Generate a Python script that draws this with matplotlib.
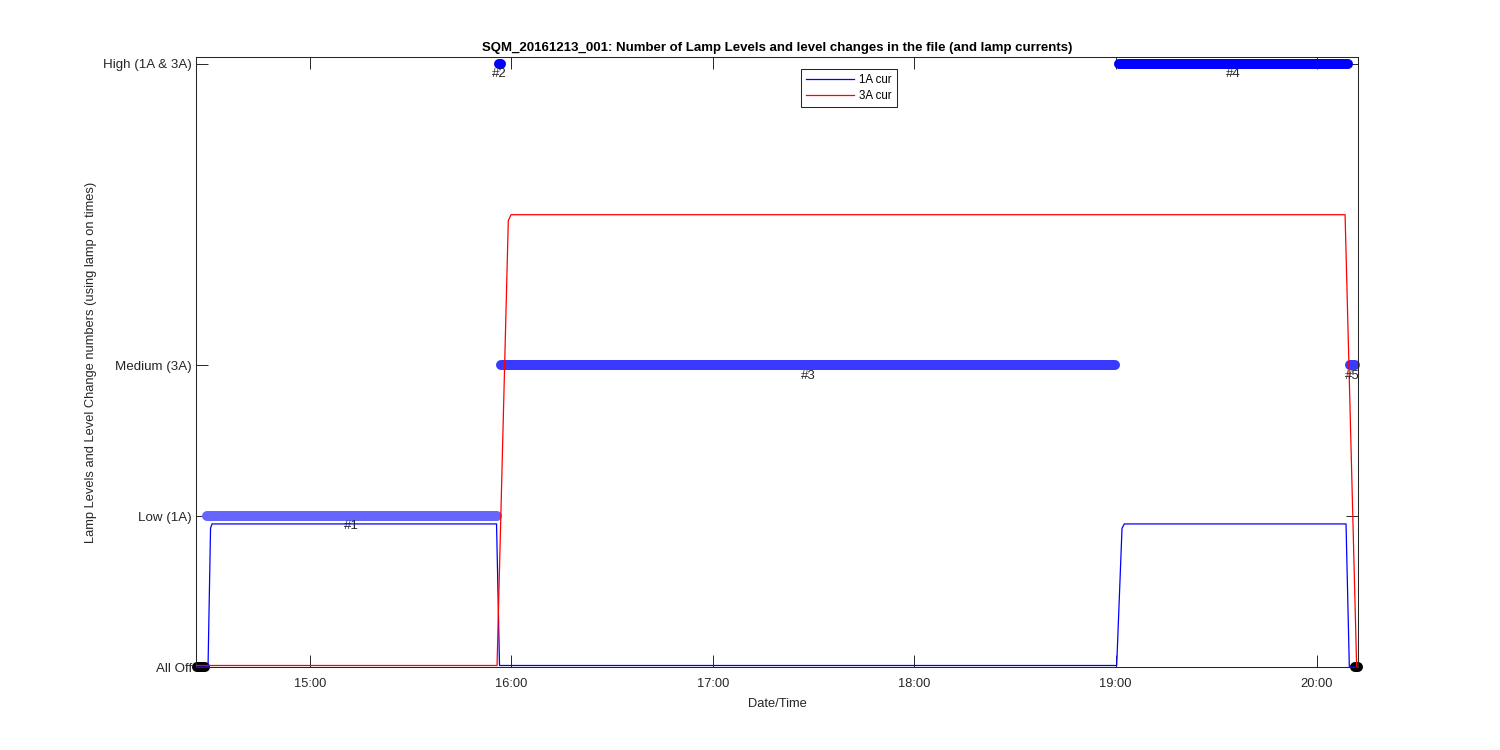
import matplotlib
matplotlib.use("Agg")
import matplotlib.pyplot as plt
import matplotlib.dates as mdates
from datetime import datetime

# ---------------- data ----------------
day = "2016-12-13"

# lamp currents
t_1a = ["14:26:02", "14:29:37", "14:30:22", "14:30:48", "15:55:34", "15:56:27",
        "19:00:19", "19:01:54", "19:02:35", "20:08:38", "20:09:37", "20:12:12"]
i_1a = [0.0, 0.0, 0.92, 0.949, 0.949, 0.01, 0.01, 0.92, 0.949, 0.949, 0.0, 0.0]

t_3a = ["14:26:02", "15:55:43", "15:59:04", "15:59:53", "20:08:21", "20:11:48", "20:12:12"]
i_3a = [0.01, 0.01, 2.96, 3.0, 3.0, 0.0, 0.0]

# lamp level segments
seg_start = ["14:26:20", "14:29:10", "15:56:09", "15:56:54", "19:01:00", "20:09:50", "20:11:18"]
seg_end = ["14:28:43", "15:55:43", "15:56:45", "18:59:48", "20:09:13", "20:11:19", "20:12:20"]
seg_level = [0, 1, 4, 2, 4, 2, 0]
seg_label = ["", "#1", "#2", "#3", "#4", "#5", ""]

level_ticks = [0, 1, 2, 4]
level_names = ["All Off", "Low (1A)", "Medium (3A)", "High (1A & 3A)"]

x_range = ["14:26:02", "20:12:12"]
hour_ticks = ["15:00", "16:00", "17:00", "18:00", "19:00", "20:00"]

# ---------------- styling ----------------
level_colors = {0: "#000000", 1: "#6666FF", 2: "#3A3AFF", 4: "#0000FF"}
txt = "#262626"

plt.rcParams["font.family"] = ["Liberation Sans", "DejaVu Sans"]


def T(s):
    fmt = "%Y-%m-%d %H:%M:%S" if s.count(":") == 2 else "%Y-%m-%d %H:%M"
    return datetime.strptime(day + " " + s, fmt)


fig = plt.figure(figsize=(15, 7.5), dpi=100)
ax = fig.add_axes([196 / 1500, 1 - 667 / 750, (1358 - 196) / 1500, (667 - 57) / 750])

# level segments
for s, e, lv, lab in zip(seg_start, seg_end, seg_level, seg_label):
    ts, te = T(s), T(e)
    ax.plot([ts, te], [lv, lv], color=level_colors[lv], lw=7.2,
            solid_capstyle="round", clip_on=False, zorder=2)
    if lab:
        mid = ts + (te - ts) / 2
        ax.annotate(lab, xy=(mdates.date2num(mid), lv), xytext=(0, -3),
                    textcoords="offset points", ha="center", va="top",
                    fontsize=9.5, color=txt, zorder=4)

# currents
ax.plot([T(t) for t in t_1a], i_1a, color="#0000FF", lw=0.9, label="1A cur", zorder=3)
ax.plot([T(t) for t in t_3a], i_3a, color="#FF0000", lw=0.9, label="3A cur", zorder=3)

ax.set_xlim(T(x_range[0]), T(x_range[1]))
ax.set_ylim(0, 4.046)
ax.set_yticks(level_ticks)
ax.set_yticklabels(level_names)
ax.set_xticks([T(h) for h in hour_ticks])
ax.xaxis.set_major_formatter(mdates.DateFormatter("%H:%M"))

ax.tick_params(axis="both", direction="in", length=8.4, width=0.7, colors=txt,
               labelsize=9.3, top=True, right=True)
ax.tick_params(axis="x", pad=8)
ax.tick_params(axis="y", pad=3, labelsize=9.6)
for sp in ax.spines.values():
    sp.set_color(txt)
    sp.set_linewidth(0.75)

ax.set_title("SQM_20161213_001: Number of Lamp Levels and level changes in the file (and lamp currents)",
             fontsize=9.55, fontweight="bold", color="#000000", pad=4)
ax.set_xlabel("Date/Time", fontsize=9.3, color=txt, labelpad=6)
ax.set_ylabel("Lamp Levels and Level Change numbers (using lamp on times)", fontsize=9.3,
              color=txt, labelpad=4.5)

leg = ax.legend(loc="upper left", bbox_to_anchor=(800.7 / 1500, 1 - 69.3 / 750),
                bbox_transform=fig.transFigure, borderaxespad=0, fontsize=8.3,
                handlelength=4.2, handletextpad=0.4, borderpad=0.45, labelspacing=0.3,
                fancybox=False, framealpha=1, edgecolor=txt)
leg.get_frame().set_linewidth(0.75)

fig.savefig("out.png", dpi=100)
